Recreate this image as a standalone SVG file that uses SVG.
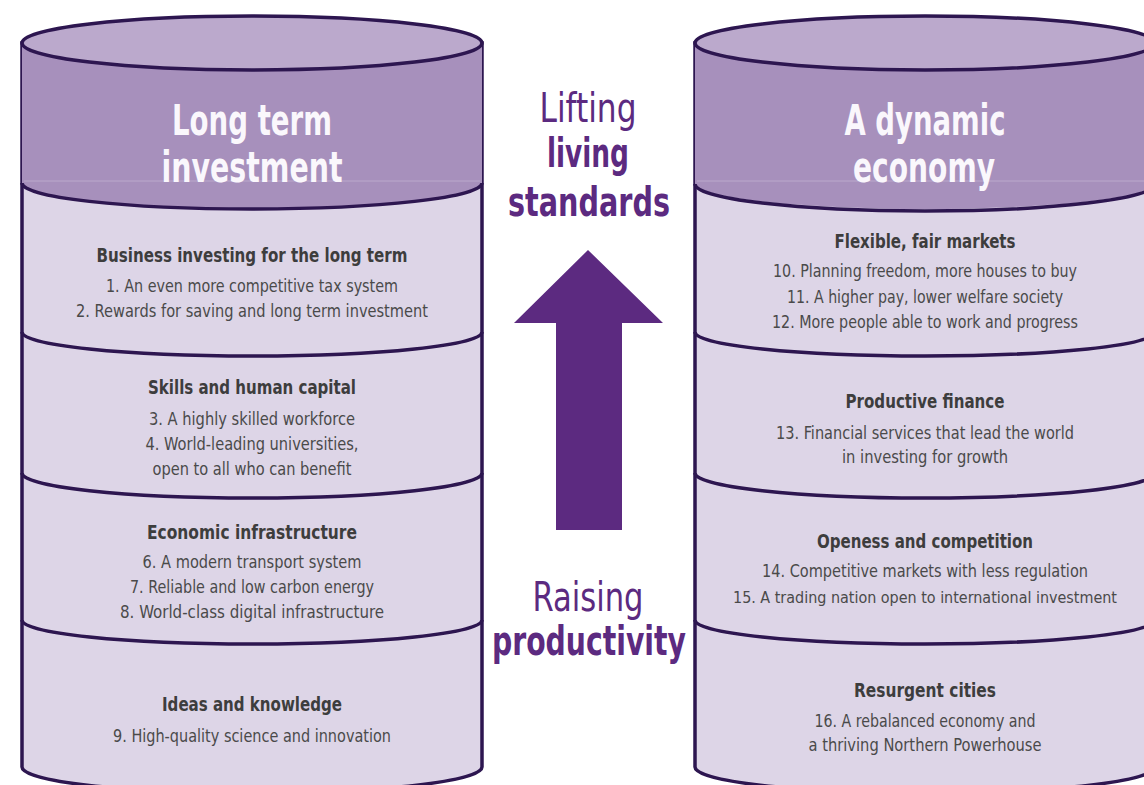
<svg xmlns="http://www.w3.org/2000/svg" width="1144" height="785" viewBox="0 0 1144 785">
  <style>
    text { font-family: "Liberation Sans Narrow", "DejaVu Sans Condensed", "Roboto", sans-serif; text-anchor: middle; }
    .body { fill: #ddd5e7; stroke: #2d1650; stroke-width: 3.5; }
    .band { fill: #a790bc; stroke: none; }
    .seam { stroke: #bba9cc; stroke-width: 1; }
    .lid { fill: #bba9cc; stroke: #2d1650; stroke-width: 3.5; }
    .rim { fill: none; stroke: #2d1650; stroke-width: 3.5; }
    .title { fill: #faf7fc; font-size: 43px; font-weight: 700; }
    .head { fill: #3d3d3d; font-size: 20px; font-weight: 700; }
    .item { fill: #4a4a4a; font-size: 17.5px; }
    .item.long { font-size: 16px; }
    .mid { fill: #5c2a80; font-size: 41px; }
    .midb { fill: #5c2a80; font-size: 41px; font-weight: 700; }
  </style>

  <!-- Left pillar -->
  <g id="pillar-left">
    <path class="body" d="M22,43 L22,767 A230,26 0 0 0 482,767 L482,43 Z"/>
    <path class="band" d="M22,43 L22,183 A230,26 0 0 0 482,183 L482,43 Z"/>
    <line class="seam" x1="24" y1="181" x2="480" y2="181"/>
    <ellipse class="lid" cx="252" cy="43" rx="230" ry="27"/>
    <path class="rim" d="M22,183 A230,26 0 0 0 482,183"/>
    <path class="rim" d="M22,332 A230,24 0 0 0 482,332"/>
    <path class="rim" d="M22,473 A230,25 0 0 0 482,473"/>
    <path class="rim" d="M22,620 A230,24 0 0 0 482,620"/>
    <text class="title" x="252" y="135" textLength="160" lengthAdjust="spacingAndGlyphs">Long term</text>
    <text class="title" x="252" y="182" textLength="181" lengthAdjust="spacingAndGlyphs">investment</text>
  </g>

  <g id="node-business">
    <text class="head" x="252" y="262" textLength="311" lengthAdjust="spacingAndGlyphs">Business investing for the long term</text>
    <text class="item" x="252" y="292" textLength="292" lengthAdjust="spacingAndGlyphs">1. An even more competitive tax system</text>
    <text class="item" x="252" y="317" textLength="352" lengthAdjust="spacingAndGlyphs">2. Rewards for saving and long term investment</text>
  </g>
  <g id="node-skills">
    <text class="head" x="252" y="394" textLength="208" lengthAdjust="spacingAndGlyphs">Skills and human capital</text>
    <text class="item" x="252" y="425" textLength="206" lengthAdjust="spacingAndGlyphs">3. A highly skilled workforce</text>
    <text class="item" x="252" y="450" textLength="213" lengthAdjust="spacingAndGlyphs">4. World-leading universities,</text>
    <text class="item" x="252" y="475" textLength="199" lengthAdjust="spacingAndGlyphs">open to all who can benefit</text>
  </g>
  <g id="node-infrastructure">
    <text class="head" x="252" y="539" textLength="210" lengthAdjust="spacingAndGlyphs">Economic infrastructure</text>
    <text class="item" x="252" y="568" textLength="219" lengthAdjust="spacingAndGlyphs">6. A modern transport system</text>
    <text class="item" x="252" y="593" textLength="244" lengthAdjust="spacingAndGlyphs">7. Reliable and low carbon energy</text>
    <text class="item" x="252" y="618" textLength="264" lengthAdjust="spacingAndGlyphs">8. World-class digital infrastructure</text>
  </g>
  <g id="node-ideas">
    <text class="head" x="252" y="711" textLength="180" lengthAdjust="spacingAndGlyphs">Ideas and knowledge</text>
    <text class="item" x="252" y="742" textLength="278" lengthAdjust="spacingAndGlyphs">9. High-quality science and innovation</text>
  </g>

  <!-- Right pillar -->
  <g id="pillar-right">
    <path class="body" d="M695,43 L695,767 A230,26 0 0 0 1155,767 L1155,43 Z"/>
    <path class="band" d="M695,43 L695,183 A230,26 0 0 0 1155,183 L1155,43 Z"/>
    <line class="seam" x1="697" y1="181" x2="1153" y2="181"/>
    <ellipse class="lid" cx="925" cy="43" rx="230" ry="27"/>
    <path class="rim" d="M695,184 A230,27 0 0 0 1155,184"/>
    <path class="rim" d="M695,332 A230,24 0 0 0 1155,332"/>
    <path class="rim" d="M695,473 A230,25 0 0 0 1155,473"/>
    <path class="rim" d="M695,620 A230,24 0 0 0 1155,620"/>
    <text class="title" x="925" y="135" textLength="161" lengthAdjust="spacingAndGlyphs">A dynamic</text>
    <text class="title" x="924" y="182" textLength="142" lengthAdjust="spacingAndGlyphs">economy</text>
  </g>

  <g id="node-markets">
    <text class="head" x="925" y="248" textLength="181" lengthAdjust="spacingAndGlyphs">Flexible, fair markets</text>
    <text class="item" x="925" y="277" textLength="304" lengthAdjust="spacingAndGlyphs">10. Planning freedom, more houses to buy</text>
    <text class="item" x="925" y="303" textLength="276" lengthAdjust="spacingAndGlyphs">11. A higher pay, lower welfare society</text>
    <text class="item" x="925" y="328" textLength="306" lengthAdjust="spacingAndGlyphs">12. More people able to work and progress</text>
  </g>
  <g id="node-finance">
    <text class="head" x="925" y="408" textLength="159" lengthAdjust="spacingAndGlyphs">Productive finance</text>
    <text class="item" x="925" y="439" textLength="298" lengthAdjust="spacingAndGlyphs">13. Financial services that lead the world</text>
    <text class="item" x="925" y="463" textLength="166" lengthAdjust="spacingAndGlyphs">in investing for growth</text>
  </g>
  <g id="node-competition">
    <text class="head" x="925" y="548" textLength="216" lengthAdjust="spacingAndGlyphs">Openess and competition</text>
    <text class="item" x="925" y="577" textLength="326" lengthAdjust="spacingAndGlyphs">14. Competitive markets with less regulation</text>
    <text class="item long" x="925" y="603" textLength="384" lengthAdjust="spacingAndGlyphs">15. A trading nation open to international investment</text>
  </g>
  <g id="node-cities">
    <text class="head" x="925" y="697" textLength="142" lengthAdjust="spacingAndGlyphs">Resurgent cities</text>
    <text class="item" x="925" y="727" textLength="221" lengthAdjust="spacingAndGlyphs">16. A rebalanced economy and</text>
    <text class="item" x="925" y="751" textLength="233" lengthAdjust="spacingAndGlyphs">a thriving Northern Powerhouse</text>
  </g>

  <!-- Central arrow and captions -->
  <g id="connectors">
    <polygon fill="#5c2a80" points="588,250 663,323 622,323 622,530 556,530 556,323 514,323"/>
  </g>
  <g id="caption-top">
    <text class="mid" x="588" y="122" textLength="97" lengthAdjust="spacingAndGlyphs">Lifting</text>
    <text class="midb" x="588" y="167" textLength="82" lengthAdjust="spacingAndGlyphs">living</text>
    <text class="midb" x="589" y="216" textLength="162" lengthAdjust="spacingAndGlyphs">standards</text>
  </g>
  <g id="caption-bottom">
    <text class="mid" x="588" y="611" textLength="111" lengthAdjust="spacingAndGlyphs">Raising</text>
    <text class="midb" x="589" y="655" textLength="194" lengthAdjust="spacingAndGlyphs">productivity</text>
  </g>
</svg>
